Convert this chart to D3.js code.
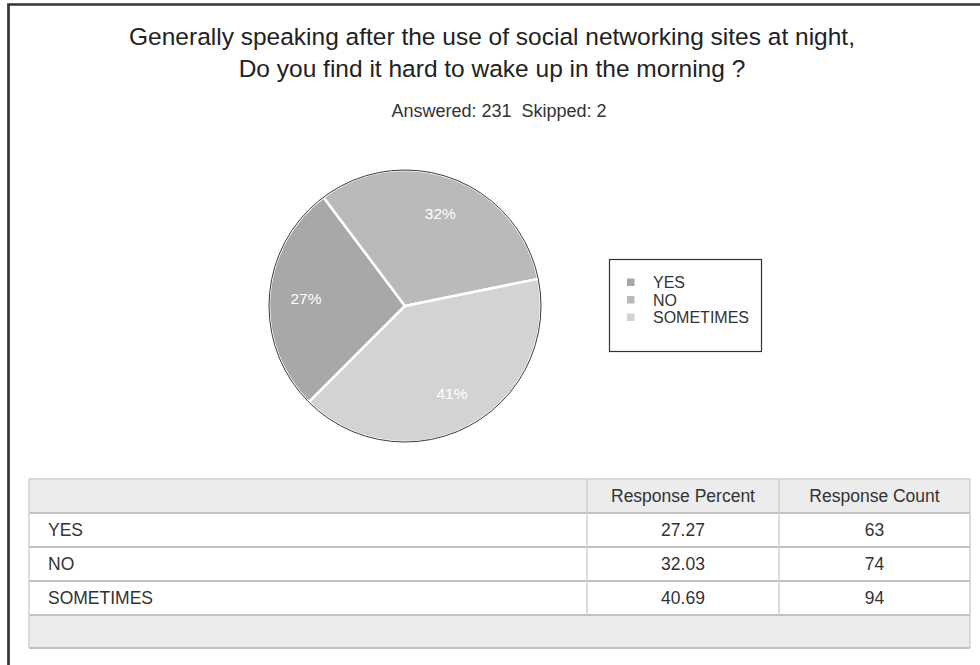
<!DOCTYPE html>
<html>
<head>
<meta charset="utf-8">
<script src="https://cdn.jsdelivr.net/npm/d3@7"></script>
<style>
  html, body { margin: 0; padding: 0; background: #fff; }
  svg { display: block; font-family: "Liberation Sans", Arial, Helvetica, sans-serif; }
</style>
</head>
<body>
<svg id="chart" width="980" height="665"></svg>
<script>
// Survey answers
const categories = ["YES", "NO", "SOMETIMES"];
const percents = [27.27, 32.03, 40.69];
const counts = [63, 74, 94];
const colors = ["#a8a8a8", "#bababa", "#d3d3d3"];
const columnHeaders = ["", "Response Percent", "Response Count"];
const titleLines = [
  "Generally speaking after the use of social networking sites at night,",
  "Do you find it hard to wake up in the morning ?"
];
const subtitle = "Answered: 231  Skipped: 2";

const svg = d3.select("#chart");

// Outer frame: top and left edges
svg.append("path")
  .attr("d", "M8.5,665 V4.5 H980")
  .attr("fill", "none")
  .attr("stroke", "#333")
  .attr("stroke-width", 2.7);

// Title and response summary
svg.selectAll("text.title")
  .data(titleLines)
  .join("text")
  .attr("class", "title")
  .attr("x", 492)
  .attr("y", (d, i) => 45 + i * 32)
  .attr("text-anchor", "middle")
  .attr("font-size", 24.5)
  .attr("fill", "#222")
  .text(d => d);

svg.append("text")
  .attr("x", 499)
  .attr("y", 117)
  .attr("text-anchor", "middle")
  .attr("font-size", 18)
  .attr("fill", "#333")
  .style("white-space", "pre")
  .text(subtitle);

// Pie
const cx = 405, cy = 306, r = 136;
const data = categories.map((c, i) => ({ name: c, value: percents[i], color: colors[i] }));
const pie = d3.pie()
  .value(d => d.value)
  .sort(null)
  .startAngle(-135 * Math.PI / 180)
  .endAngle(225 * Math.PI / 180);
const arcs = pie(data);
const arc = d3.arc().innerRadius(0).outerRadius(r);
const labelArc = d3.arc().innerRadius(r * 0.73).outerRadius(r * 0.73);

const g = svg.append("g").attr("transform", `translate(${cx},${cy})`);
g.selectAll("path.slice")
  .data(arcs)
  .join("path")
  .attr("class", "slice")
  .attr("d", arc)
  .attr("fill", d => d.data.color)
  .attr("stroke", "#fff")
  .attr("stroke-width", 2.5)
  .attr("stroke-linejoin", "round");

g.append("circle")
  .attr("r", r)
  .attr("fill", "none")
  .attr("stroke", "#3a3a3a")
  .attr("stroke-width", 1);

g.selectAll("text.pct")
  .data(arcs)
  .join("text")
  .attr("class", "pct")
  .attr("transform", d => `translate(${labelArc.centroid(d)})`)
  .attr("text-anchor", "middle")
  .attr("dy", "0.35em")
  .attr("font-size", 15.5)
  .attr("fill", "#fff")
  .text(d => Math.round(d.data.value) + "%");

// Legend
const legend = svg.append("g").attr("transform", "translate(609,259)");
legend.append("rect")
  .attr("x", 0.5).attr("y", 0.5)
  .attr("width", 152).attr("height", 92)
  .attr("fill", "#fff")
  .attr("stroke", "#333")
  .attr("stroke-width", 1.2);
const li = legend.selectAll("g.item")
  .data(data)
  .join("g")
  .attr("class", "item")
  .attr("transform", (d, i) => `translate(18,${19.5 + i * 17.5})`);
li.append("rect")
  .attr("width", 7.5).attr("height", 7.5)
  .attr("fill", d => d.color);
li.append("text")
  .attr("x", 26)
  .attr("y", 9.5)
  .attr("font-size", 16)
  .attr("fill", "#333")
  .text(d => d.name);

// Table
const tx0 = 29, tx1 = 970;
const colX = [tx0, 587, 779, tx1];
const rowH = 34;
const ty0 = 479;
const rows = categories.map((c, i) => [c, percents[i].toFixed(2), String(counts[i])]);
const tbl = svg.append("g");

// header and footer bands
tbl.append("rect").attr("x", tx0).attr("y", ty0).attr("width", tx1 - tx0).attr("height", rowH).attr("fill", "#ececec");
tbl.append("rect").attr("x", tx0).attr("y", ty0 + rowH * 4).attr("width", tx1 - tx0).attr("height", 33).attr("fill", "#ececec");

// horizontal rules
const hLines = [ty0, ty0 + rowH, ty0 + rowH * 2, ty0 + rowH * 3, ty0 + rowH * 4, ty0 + rowH * 4 + 33];
tbl.selectAll("line.h")
  .data(hLines)
  .join("line")
  .attr("class", "h")
  .attr("x1", tx0).attr("x2", tx1)
  .attr("y1", d => d).attr("y2", d => d)
  .attr("stroke", (d, i) => (i === 0 ? "#cfcfcf" : "#c0c0c0"))
  .attr("stroke-width", (d, i) => (i === 0 ? 1.5 : 2));

// vertical rules
tbl.selectAll("line.v")
  .data([tx0, colX[1], colX[2], tx1])
  .join("line")
  .attr("class", "v")
  .attr("x1", d => d).attr("x2", d => d)
  .attr("y1", ty0)
  .attr("y2", (d, i) => (i === 0 || i === 3) ? ty0 + rowH * 4 + 33 : ty0 + rowH * 4)
  .attr("stroke", "#cfcfcf")
  .attr("stroke-width", 1.5);

// header text
tbl.selectAll("text.hd")
  .data(columnHeaders.slice(1))
  .join("text")
  .attr("class", "hd")
  .attr("x", (d, i) => (colX[i + 1] + colX[i + 2]) / 2)
  .attr("y", ty0 + rowH / 2)
  .attr("dy", "0.35em")
  .attr("text-anchor", "middle")
  .attr("font-size", 17.5)
  .attr("fill", "#333")
  .text(d => d);

// body rows
const rg = tbl.selectAll("g.row")
  .data(rows)
  .join("g")
  .attr("class", "row")
  .attr("transform", (d, i) => `translate(0,${ty0 + rowH * (i + 1) + rowH / 2})`);
rg.selectAll("text")
  .data(d => d)
  .join("text")
  .attr("x", (d, j) => j === 0 ? tx0 + 19 : (colX[j] + colX[j + 1]) / 2)
  .attr("dy", "0.35em")
  .attr("text-anchor", (d, j) => j === 0 ? "start" : "middle")
  .attr("font-size", 17.5)
  .attr("fill", "#333")
  .text(d => d);
</script>
</body>
</html>
